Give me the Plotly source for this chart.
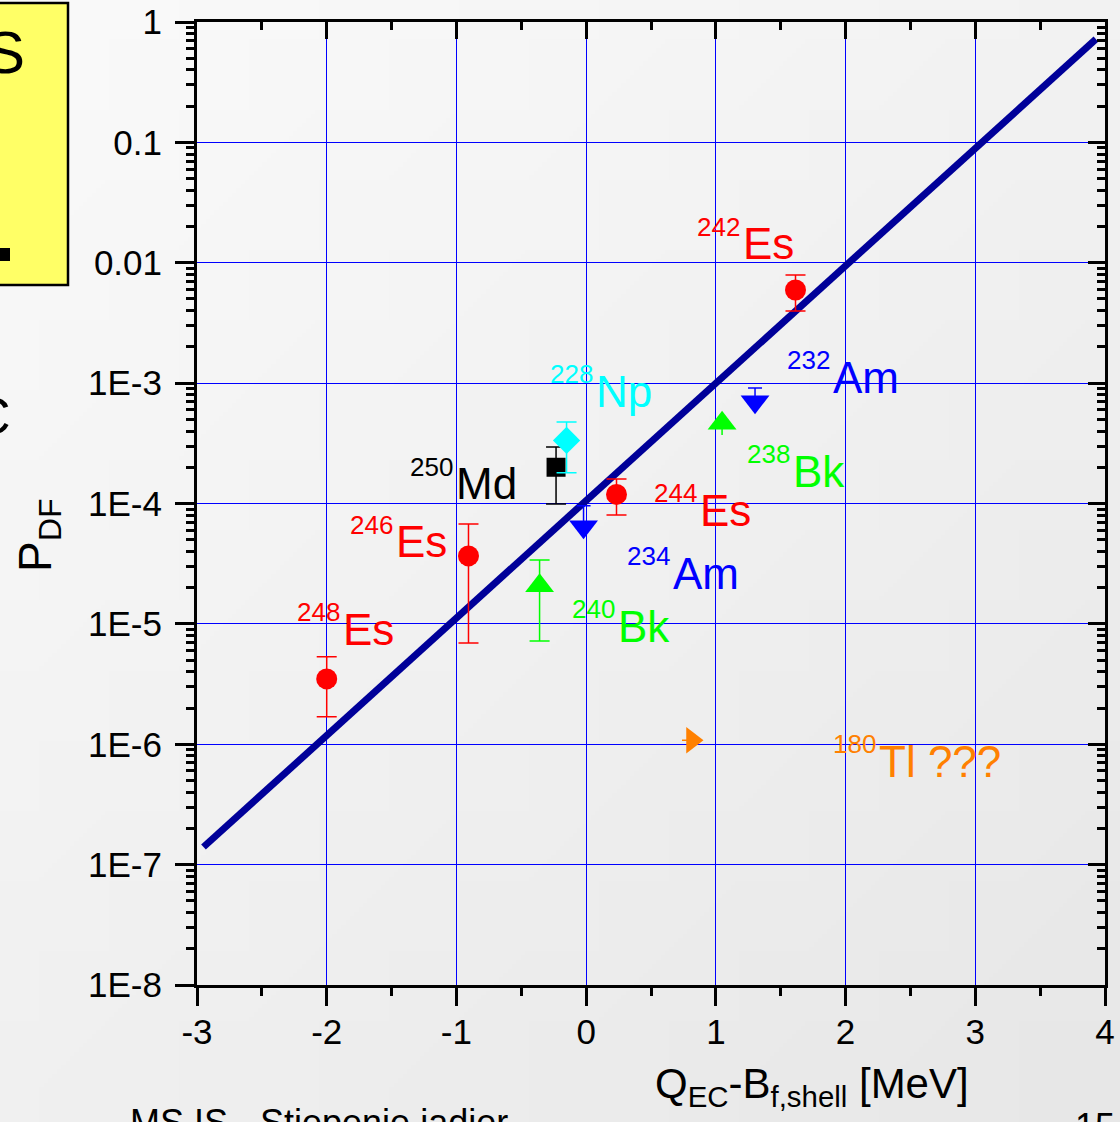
import math, zlib, struct, base64
import plotly.graph_objects as go

# ---------------- data ----------------
nuclide_mass = ["248", "246", "240", "250", "228", "244", "234", "232", "238", "242", "180"]
nuclide_sym = ["Es", "Es", "Bk", "Md", "Np", "Es", "Am", "Am", "Bk", "Es", "Tl ???"]
q_minus_b = [-2.00, -0.907, -0.359, -0.232, -0.151, 0.234, -0.020, 1.302, 1.048, 1.614, 0.816]
p_df = [3.49e-6, 3.67e-5, 2.07e-5, 2.0e-4, 3.34e-4, 1.19e-4, 6.4e-5, 7.0e-4, 4.64e-4, 5.94e-3, 1.08e-6]
p_df_hi = [5.32e-6, 6.77e-5, 3.40e-5, 2.95e-4, 4.76e-4, 1.60e-4, 9.6e-5, 9.1e-4, None, 7.92e-3, None]
p_df_lo = [1.69e-6, 6.95e-6, 7.2e-6, 9.9e-5, 1.8e-4, 8.04e-5, None, None, 3.71e-4, 3.98e-3, None]

fit_x = [-2.95, 3.93]
fit_p = [1.40e-7, 0.72]

x_tick_vals = [-3, -2, -1, 0, 1, 2, 3, 4]
y_tick_vals = [1e-8, 1e-7, 1e-6, 1e-5, 1e-4, 1e-3, 1e-2, 1e-1, 1]
y_tick_text = ["1E-8", "1E-7", "1E-6", "1E-5", "1E-4", "1E-3", "0.01", "0.1", "1"]

# label anchor (left edge of element symbol, middle of capitals) in data units
label_x = [-1.882, -1.473, 0.238, -1.011, 0.069, 0.870, 0.662, 1.896, 1.588, 1.202, 2.251]
label_logp = [-5.046, -4.319, -5.021, -3.837, -3.069, -4.057, -4.581, -2.953, -3.733, -1.844, -6.142]

# ---------------- styles ----------------
FONT = "Liberation Sans, Arial, sans-serif"
elem_color = {"Es": "#ff0000", "Bk": "#00ff00", "Md": "#000000", "Np": "#00ffff",
              "Am": "#0000ff", "Tl ???": "#ff8000"}
elem_symbol = {"Es": "circle", "Bk": "triangle-up", "Md": "square", "Np": "diamond",
               "Am": "triangle-down", "Tl ???": "triangle-right"}
elem_size = {"Es": 21, "Bk": 25, "Md": 19, "Np": 21, "Am": 25, "Tl ???": 23}

W, H = 1120, 1122
ML, MR, MT, MB = 197, 15, 22, 137
PW, PH = W - ML - MR, H - MT - MB


def px(x):
    return (x - ML) / PW


def py(y):
    return (H - MB - y) / PH


# gradient background png
def make_png(w, h, c00, c10, c01, c11):
    rows = []
    for j in range(h):
        row = bytearray([0])
        for i in range(w):
            u, v = i / (w - 1), j / (h - 1)
            c = [round(c00[k] * (1 - u) * (1 - v) + c10[k] * u * (1 - v) + c01[k] * (1 - u) * v + c11[k] * u * v) for k in range(3)]
            row += bytes(c)
        rows.append(bytes(row))
    raw = b"".join(rows)

    def chunk(t, d):
        return struct.pack(">I", len(d)) + t + d + struct.pack(">I", zlib.crc32(t + d) & 0xffffffff)
    return (b"\x89PNG\r\n\x1a\n" + chunk(b"IHDR", struct.pack(">IIBBBBB", w, h, 8, 2, 0, 0, 0))
            + chunk(b"IDAT", zlib.compress(raw)) + chunk(b"IEND", b""))


bg = "data:image/png;base64," + base64.b64encode(
    make_png(16, 16, (250, 250, 250), (242, 242, 242), (240, 240, 240), (231, 231, 231))).decode()

fig = go.Figure()

# fit line
fig.add_trace(go.Scatter(x=fit_x, y=fit_p, mode="lines", line=dict(color="#000099", width=7),
                         showlegend=False, hoverinfo="skip"))

for i in range(len(q_minus_b)):
    s = nuclide_sym[i]
    plus = 0 if p_df_hi[i] is None else p_df_hi[i] - p_df[i]
    minus = 0 if p_df_lo[i] is None else p_df[i] - p_df_lo[i]
    capw = 10
    if s == "Am":
        capw = 7
    if s == "Bk" and p_df_hi[i] is None:
        capw = 0
    fig.add_trace(go.Scatter(
        x=[q_minus_b[i]], y=[p_df[i]], mode="markers",
        marker=dict(symbol=elem_symbol[s], size=elem_size[s], color=elem_color[s], line=dict(width=0)),
        error_y=dict(type="data", symmetric=False, array=[plus], arrayminus=[minus],
                     color=elem_color[s], thickness=1.5, width=capw),
        showlegend=False, hoverinfo="skip"))

# dummy trace for mirrored axes
fig.add_trace(go.Scatter(x=[None], y=[None], xaxis="x2", yaxis="y2", showlegend=False, hoverinfo="skip"))

annotations = []
for i in range(len(q_minus_b)):
    s = nuclide_sym[i]
    col = elem_color[s]
    annotations.append(dict(x=label_x[i], y=label_logp[i], xref="x", yref="y", text=s,
                            xanchor="left", yanchor="middle", showarrow=False,
                            font=dict(family=FONT, size=44, color=col), borderpad=0))
    annotations.append(dict(x=label_x[i], y=label_logp[i], xref="x", yref="y", text=nuclide_mass[i],
                            xanchor="right", yanchor="middle", showarrow=False, xshift=-1, yshift=17,
                            font=dict(family=FONT, size=26, color=col), borderpad=0))

# axis titles
annotations.append(dict(x=px(653), y=py(1086), xref="paper", yref="paper", xanchor="left", yanchor="middle",
                        text="Q<sub>EC</sub>-B<sub>f,shell</sub> [MeV]", showarrow=False,
                        font=dict(family=FONT, size=42, color="black")))
annotations.append(dict(x=px(38), y=py(535), xref="paper", yref="paper", xanchor="center", yanchor="middle",
                        text="P<sub>DF</sub>", textangle=-90, showarrow=False,
                        font=dict(family=FONT, size=46, color="black")))
# slide fragments
annotations.append(dict(x=px(27), y=py(53), xref="paper", yref="paper", xanchor="right", yanchor="middle",
                        text="S", showarrow=False, font=dict(family=FONT, size=60, color="black")))
annotations.append(dict(x=px(13), y=py(416), xref="paper", yref="paper", xanchor="right", yanchor="middle",
                        text="C", showarrow=False, font=dict(family=FONT, size=52, color="black")))
annotations.append(dict(x=px(128), y=py(1122), xref="paper", yref="paper", xanchor="left", yanchor="middle",
                        text="MS IS - Stiepenie jadier", showarrow=False,
                        font=dict(family=FONT, size=36, color="black")))
annotations.append(dict(x=px(1117), y=py(1126), xref="paper", yref="paper", xanchor="right", yanchor="middle",
                        text="15", showarrow=False, font=dict(family=FONT, size=36, color="black")))

shapes = [
    dict(type="rect", xref="paper", yref="paper", x0=px(-10), x1=px(68), y0=py(285), y1=py(3),
         fillcolor="#ffff66", line=dict(color="black", width=2.5), layer="below"),
    dict(type="rect", xref="paper", yref="paper", x0=px(-2), x1=px(10), y0=py(261), y1=py(248),
         fillcolor="black", line=dict(width=0), layer="above"),
]

axis_common = dict(showline=True, linecolor="black", linewidth=3, tickcolor="black", tickwidth=3,
                   zeroline=False, automargin=False)

fig.update_layout(
    width=W, height=H, autosize=False,
    margin=dict(l=ML, r=MR, t=MT, b=MB, pad=0, autoexpand=False),
    paper_bgcolor="rgba(0,0,0,0)", plot_bgcolor="rgba(0,0,0,0)",
    font=dict(family=FONT, size=35, color="black"),
    images=[dict(source=bg, xref="paper", yref="paper", x=px(0), y=py(0), sizex=W / PW, sizey=H / PH,
                 xanchor="left", yanchor="top", sizing="stretch", layer="below")],
    xaxis=dict(range=[-3, 4], tickmode="array", tickvals=x_tick_vals,
               ticktext=[str(v) for v in x_tick_vals], ticks="outside", ticklen=18,
               showgrid=True, gridcolor="#0000ff", gridwidth=1.3, ticklabelstandoff=-4,
               minor=dict(ticks="outside", ticklen=8, tickwidth=3, tickcolor="black", dtick=0.5, showgrid=False),
               tickfont=dict(size=35), **axis_common),
    yaxis=dict(type="log", range=[-8, 0], tickmode="array", tickvals=y_tick_vals, ticktext=y_tick_text,
               ticks="outside", ticklen=19, showgrid=True, gridcolor="#0000ff", gridwidth=1.3,
               ticklabelstandoff=6,
               minor=dict(ticks="outside", ticklen=8, tickwidth=3, tickcolor="black", dtick="D1", showgrid=False),
               tickfont=dict(size=35), **axis_common),
    xaxis2=dict(range=[-3, 4], overlaying="x", side="top", anchor="y2", tickmode="array", tickvals=x_tick_vals,
                ticks="inside", ticklen=17, showticklabels=False, showgrid=False,
                minor=dict(ticks="inside", ticklen=8, tickwidth=3, tickcolor="black", dtick=0.5, showgrid=False),
                **axis_common),
    yaxis2=dict(type="log", range=[-8, 0], overlaying="y", side="right", anchor="x2", tickmode="array",
                tickvals=y_tick_vals, ticks="inside", ticklen=17, showticklabels=False, showgrid=False,
                minor=dict(ticks="inside", ticklen=8, tickwidth=3, tickcolor="black", dtick="D1", showgrid=False),
                **axis_common),
    annotations=annotations, shapes=shapes,
)

fig.write_html("out.html", config={"displayModeBar": False})
